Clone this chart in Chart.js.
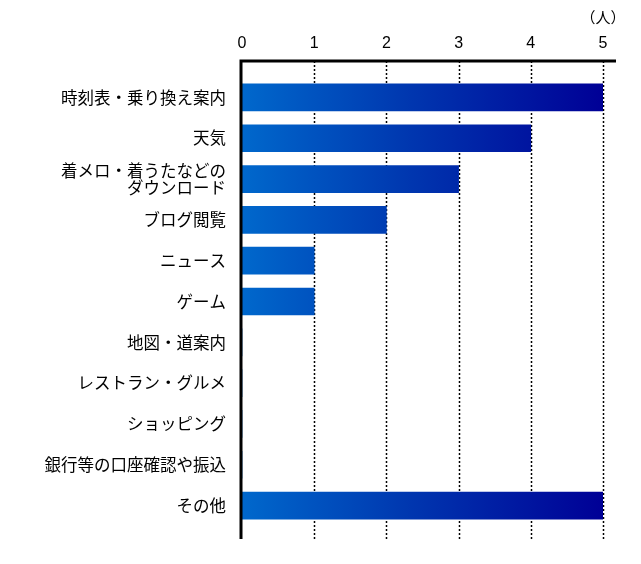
<!DOCTYPE html>
<html lang="ja">
<head>
<meta charset="utf-8">
<title>利用サービス</title>
<script src="https://cdn.jsdelivr.net/npm/chart.js@4/dist/chart.umd.min.js"></script>
<style>
  html, body { margin: 0; padding: 0; background: #fff; }
  #wrap { position: relative; width: 641px; height: 564px; }
</style>
</head>
<body>
<div id="wrap"><canvas id="usageChart"></canvas></div>
<script>
/* ── Data ─────────────────────────────────────────────────── */
const categories = [
  '時刻表・乗り換え案内',
  '天気',
  ['着メロ・着うたなどの', 'ダウンロード'],
  'ブログ閲覧',
  'ニュース',
  'ゲーム',
  '地図・道案内',
  'レストラン・グルメ',
  'ショッピング',
  '銀行等の口座確認や振込',
  'その他'
];
const people = [5, 4, 3, 2, 1, 1, 0, 0, 0, 0, 5];
const xTicks = [0, 1, 2, 3, 4, 5];
const unitLabel = '（人）';

const jpFont = "'Noto Sans CJK JP', 'Noto Sans', sans-serif";

/* ── Frame: dotted grid + thick axis lines ────────────────── */
const framePlugin = {
  id: 'frame',
  beforeDatasetsDraw(chart) {
    const { ctx, chartArea: a, scales: { x } } = chart;
    const top = a.top - 16, bottom = a.bottom + 13;
    ctx.save();
    ctx.strokeStyle = '#000';
    ctx.lineWidth = 1.5;
    ctx.setLineDash([2, 2]);
    xTicks.slice(1).forEach(v => {
      const px = Math.round(x.getPixelForValue(v)) + 0.5;
      ctx.beginPath();
      ctx.moveTo(px, top);
      ctx.lineTo(px, bottom);
      ctx.stroke();
    });
    ctx.restore();
  },
  afterDatasetsDraw(chart) {
    const { ctx, chartArea: a } = chart;
    const top = a.top - 16, bottom = a.bottom + 13;
    ctx.save();
    ctx.strokeStyle = '#000';
    ctx.lineWidth = 3;
    ctx.beginPath();
    ctx.moveTo(a.left - 1, bottom);
    ctx.lineTo(a.left - 1, top);
    ctx.lineTo(a.right + 13, top);
    ctx.stroke();
    ctx.fillStyle = '#000';
    ctx.font = '15px ' + jpFont;
    ctx.textAlign = 'center';
    ctx.textBaseline = 'middle';
    ctx.fillText(unitLabel, a.right, 17);
    ctx.restore();
  }
};

/* ── Chart ────────────────────────────────────────────────── */
new Chart(document.getElementById('usageChart').getContext('2d'), {
  type: 'bar',
  data: {
    labels: categories,
    datasets: [{
      data: people,
      barThickness: 27,
      borderWidth: 0,
      backgroundColor: (c) => {
        const a = c.chart.chartArea;
        if (!a) return '#0033aa';
        const g = c.chart.ctx.createLinearGradient(a.left, 0, a.right, 0);
        g.addColorStop(0, '#0068cc');
        g.addColorStop(0.45, '#0038b0');
        g.addColorStop(1, '#000096');
        return g;
      }
    }]
  },
  options: {
    indexAxis: 'y',
    responsive: true,
    maintainAspectRatio: false,
    animation: false,
    layout: { padding: { top: 0, right: 38, bottom: 38, left: 0 } },
    plugins: {
      legend: { display: false },
      tooltip: { enabled: false }
    },
    scales: {
      x: {
        position: 'top',
        min: 0,
        max: 5,
        afterFit: s => { s.height = 77; },
        afterBuildTicks: s => { s.ticks = xTicks.map(v => ({ value: v })); },
        grid: { display: false, drawTicks: false },
        border: { display: false },
        ticks: {
          padding: 24,
          color: '#000',
          font: { family: "'Liberation Sans', Arial, sans-serif", size: 16 }
        }
      },
      y: {
        afterFit: s => { s.width = 242; },
        grid: { display: false, drawTicks: false },
        border: { display: false },
        ticks: {
          padding: 16,
          color: '#000',
          font: { family: jpFont, size: 16.5, lineHeight: 1.06 }
        }
      }
    }
  },
  plugins: [framePlugin]
});
</script>
</body>
</html>
